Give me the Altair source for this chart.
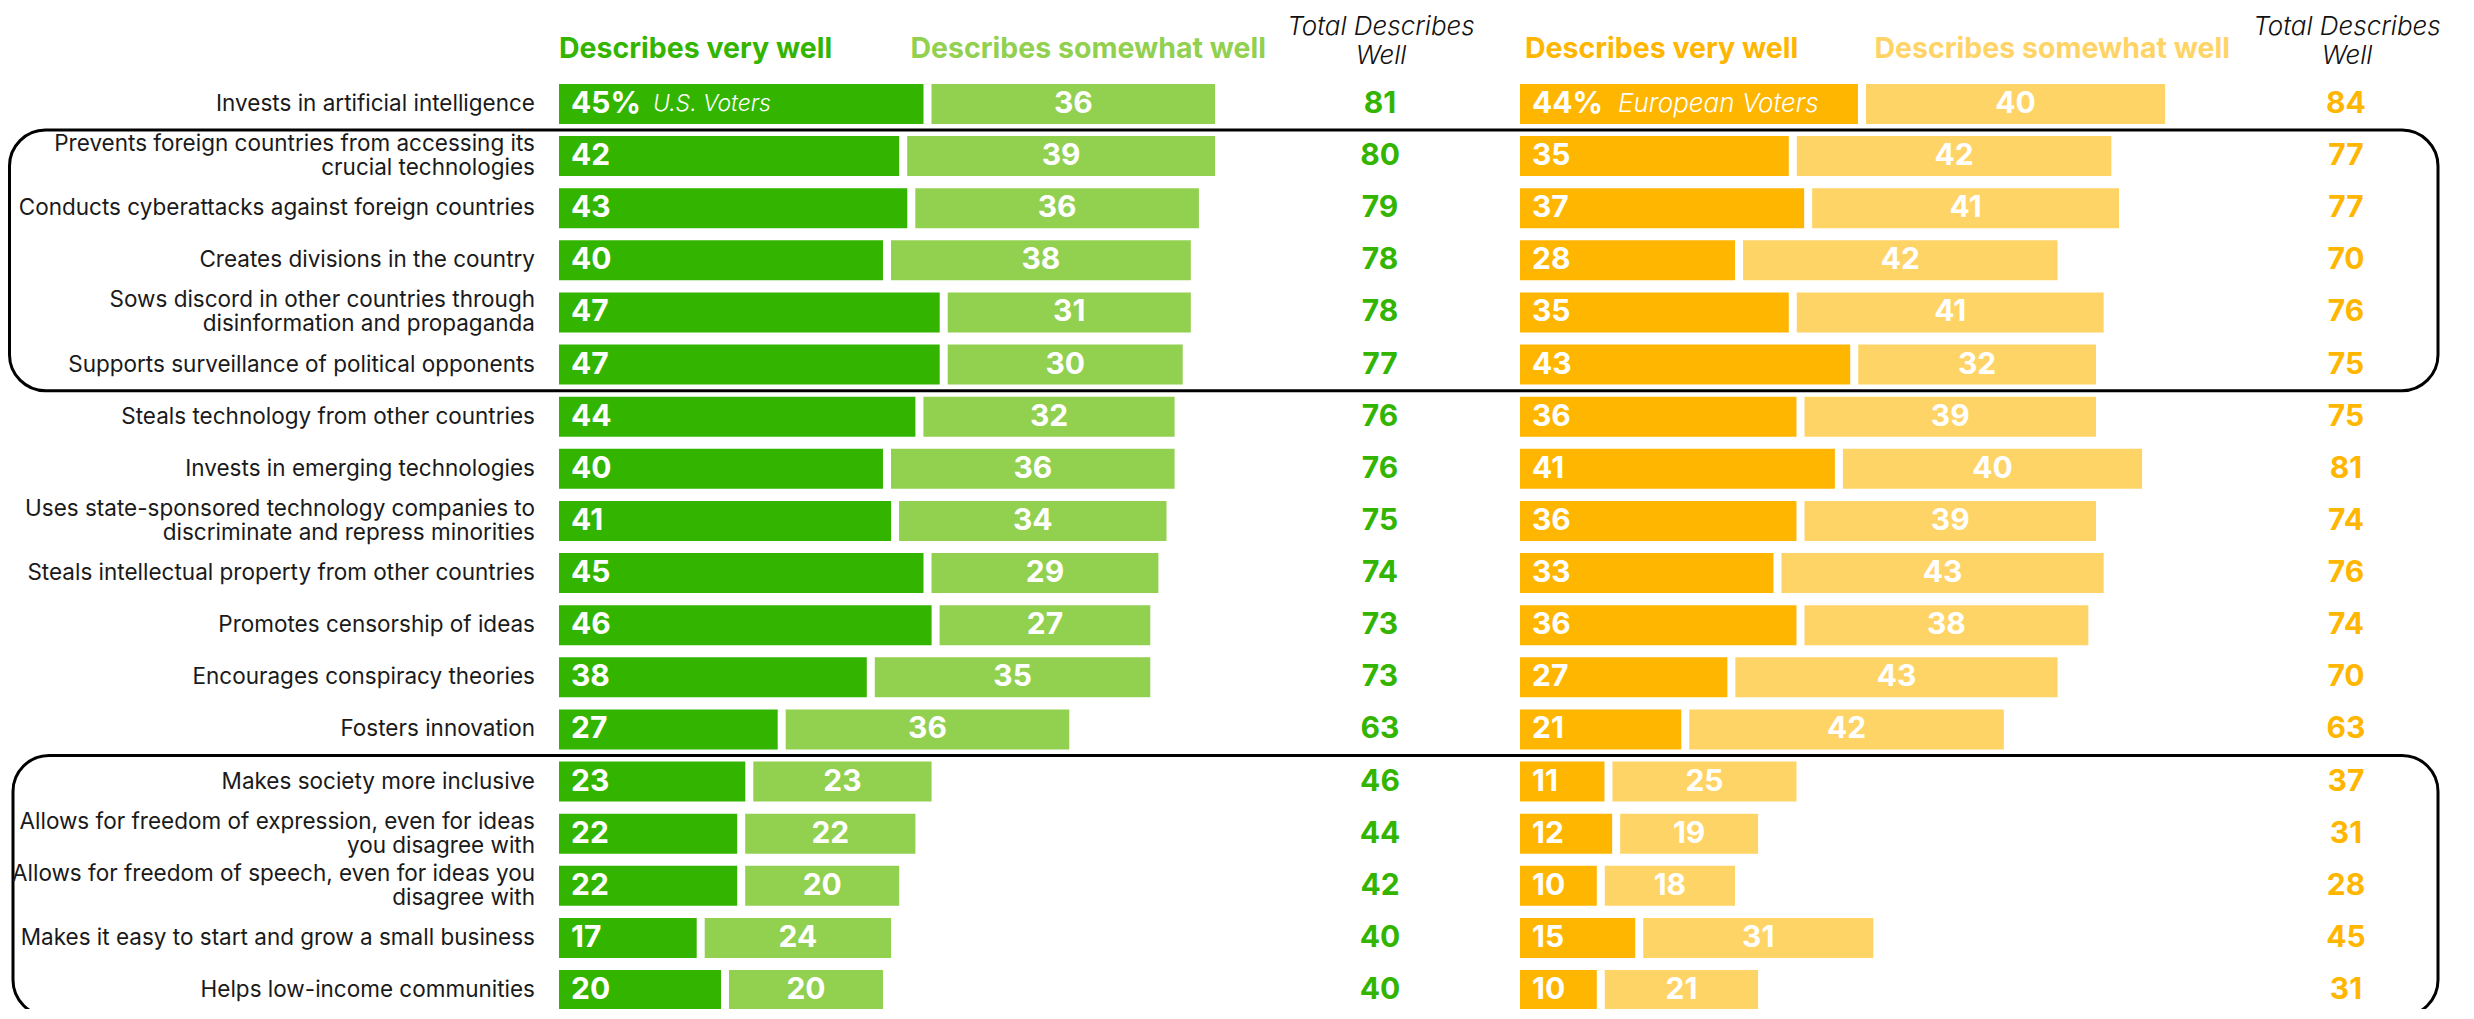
import altair as alt
import pandas as pd

labels = [
    "Invests in artificial intelligence",
    "Prevents foreign countries from accessing its\ncrucial technologies",
    "Conducts cyberattacks against foreign countries",
    "Creates divisions in the country",
    "Sows discord in other countries through\ndisinformation and propaganda",
    "Supports surveillance of political opponents",
    "Steals technology from other countries",
    "Invests in emerging technologies",
    "Uses state-sponsored technology companies to\ndiscriminate and repress minorities",
    "Steals intellectual property from other countries",
    "Promotes censorship of ideas",
    "Encourages conspiracy theories",
    "Fosters innovation",
    "Makes society more inclusive",
    "Allows for freedom of expression, even for ideas\nyou disagree with",
    "Allows for freedom of speech, even for ideas you\ndisagree with",
    "Makes it easy to start and grow a small business",
    "Helps low-income communities",
]
us_very = [45, 42, 43, 40, 47, 47, 44, 40, 41, 45, 46, 38, 27, 23, 22, 22, 17, 20]
us_some = [36, 39, 36, 38, 31, 30, 32, 36, 34, 29, 27, 35, 36, 23, 22, 20, 24, 20]
us_total = [81, 80, 79, 78, 78, 77, 76, 76, 75, 74, 73, 73, 63, 46, 44, 42, 40, 40]
eu_very = [44, 35, 37, 28, 35, 43, 36, 41, 36, 33, 36, 27, 21, 11, 12, 10, 15, 10]
eu_some = [40, 42, 41, 42, 41, 32, 39, 40, 39, 43, 38, 43, 42, 25, 19, 18, 31, 21]
eu_total = [84, 77, 77, 70, 76, 75, 75, 81, 74, 76, 74, 70, 63, 37, 31, 28, 45, 31]

# highlighted groups (first and last row index of each framed block)
box_first = [1, 13]
box_last = [5, 17]

GREEN = "#33B500"
LGREEN = "#92D050"
ORANGE = "#FFB600"
LORANGE = "#FFD466"
FONT = "Inter"

df = pd.DataFrame({
    "row": list(range(len(labels))),
    "label": labels,
    "us_very": us_very,
    "us_some": us_some,
    "us_total": us_total,
    "eu_very": eu_very,
    "eu_some": eu_some,
    "eu_total": eu_total,
})
df["us_very_txt"] = [f"{v}%" if i == 0 else str(v) for i, v in enumerate(us_very)]
df["eu_very_txt"] = [f"{v}%" if i == 0 else str(v) for i, v in enumerate(eu_very)]

boxes = pd.DataFrame({"first": box_first, "last": box_last, "box": [0, 1]})

W, H = 2456, 1001

yscale = alt.Scale(domain=[0, 17], range=[91, 987], zero=False, nice=False)
us_x = alt.Scale(domain=[0, 100], range=[551, 1361], zero=False, nice=False)
eu_x = alt.Scale(domain=[0, 100], range=[1512, 2280], zero=False, nice=False)
Y = alt.Y("row:Q", scale=yscale, axis=None)

base = alt.Chart(df).transform_calculate(
    start="0",
    us_cum="datum.us_very + datum.us_some",
    us_mid="datum.us_very + datum.us_some / 2",
    eu_cum="datum.eu_very + datum.eu_some",
    eu_mid="datum.eu_very + datum.eu_some / 2",
)

BAR_H = 40
GAP = 8
NUM = dict(font=FONT, fontSize=30, fontWeight="bold", baseline="middle")

# US bars
us_very_bar = base.mark_bar(color=GREEN, orient="horizontal", size=BAR_H).encode(
    x=alt.X("start:Q", scale=us_x, axis=None), x2="us_very:Q", y=Y)
us_some_bar = base.mark_bar(color=LGREEN, orient="horizontal", size=BAR_H, xOffset=GAP).encode(
    x=alt.X("us_very:Q", scale=us_x, axis=None), x2="us_cum:Q", y=Y)
us_very_lbl = base.mark_text(align="left", dx=12, color="white", **NUM).encode(
    x=alt.X("start:Q", scale=us_x, axis=None), y=Y, text="us_very_txt:N")
us_some_lbl = base.mark_text(align="center", dx=GAP / 2, color="white", **NUM).encode(
    x=alt.X("us_mid:Q", scale=us_x, axis=None), y=Y, text="us_some:Q")
us_voters = base.transform_filter("datum.row == 0").mark_text(
    align="left", dx=94, color="white", font=FONT, fontSize=23, fontStyle="italic",
    fontWeight=300, baseline="middle").encode(
    x=alt.X("start:Q", scale=us_x, axis=None), y=Y, text=alt.value("U.S. Voters"))
us_tot = base.mark_text(align="center", color=GREEN, **NUM).encode(
    x=alt.value(1372), y=Y, text="us_total:Q")

# European bars
eu_very_bar = base.mark_bar(color=ORANGE, orient="horizontal", size=BAR_H).encode(
    x=alt.X("start:Q", scale=eu_x, axis=None), x2="eu_very:Q", y=Y)
eu_some_bar = base.mark_bar(color=LORANGE, orient="horizontal", size=BAR_H, xOffset=GAP).encode(
    x=alt.X("eu_very:Q", scale=eu_x, axis=None), x2="eu_cum:Q", y=Y)
eu_very_lbl = base.mark_text(align="left", dx=12, color="white", **NUM).encode(
    x=alt.X("start:Q", scale=eu_x, axis=None), y=Y, text="eu_very_txt:N")
eu_some_lbl = base.mark_text(align="center", dx=GAP / 2, color="white", **NUM).encode(
    x=alt.X("eu_mid:Q", scale=eu_x, axis=None), y=Y, text="eu_some:Q")
eu_voters = base.transform_filter("datum.row == 0").mark_text(
    align="left", dx=98, color="white", font=FONT, fontSize=26, fontStyle="italic",
    fontWeight=300, baseline="middle").encode(
    x=alt.X("start:Q", scale=eu_x, axis=None), y=Y, text=alt.value("European Voters"))
eu_tot = base.mark_text(align="center", color=ORANGE, **NUM).encode(
    x=alt.value(2338), y=Y, text="eu_total:Q")

# row labels (one-line and two-line, the latter centred on the row)
LBL = dict(align="right", baseline="middle", font=FONT, fontSize=22.5, lineHeight=24,
           lineBreak="\n", color="#1a1a1a")
row_lbl1 = base.transform_filter("indexof(datum.label, '\\n') < 0").mark_text(**LBL).encode(
    x=alt.value(527), y=Y, text="label:N")
row_lbl2 = base.transform_filter("indexof(datum.label, '\\n') >= 0").mark_text(dy=-12, **LBL).encode(
    x=alt.value(527), y=Y, text="label:N")


# framing boxes
def frame(i, left):
    return alt.Chart(boxes).transform_filter(f"datum.box == {i}").transform_calculate(
        y0="datum.first - 0.5", y1="datum.last + 0.5").mark_rect(
        filled=False, stroke="black", strokeWidth=3, cornerRadius=36).encode(
        x=alt.value(left), x2=alt.value(2430),
        y=alt.Y("y0:Q", scale=yscale, axis=None), y2="y1:Q")


# headers
hdr_src = alt.Chart(pd.DataFrame({"k": [0]}))


def header(txt, x, color, align="left"):
    return hdr_src.mark_text(align=align, baseline="middle", font=FONT, fontSize=28.5,
                             fontWeight="bold", color=color).encode(
        x=alt.value(x), y=alt.value(41), text=alt.value(txt))


def total_header(x):
    return hdr_src.mark_text(align="center", baseline="middle", font=FONT, fontSize=26,
                             fontStyle="italic", fontWeight=300, color="#111",
                             lineHeight=29).encode(
        x=alt.value(x), y=alt.value(19), text=alt.value(["Total Describes", "Well"]))


headers = [
    header("Describes very well", 551, GREEN),
    header("Describes somewhat well", 1258, LGREEN, align="right"),
    header("Describes very well", 1517, ORANGE),
    header("Describes somewhat well", 2222, LORANGE, align="right"),
    total_header(1373),
    total_header(2339),
]

chart = alt.layer(
    frame(0, 1.5), frame(1, 5),
    us_very_bar, us_some_bar, us_very_lbl, us_some_lbl, us_voters, us_tot,
    eu_very_bar, eu_some_bar, eu_very_lbl, eu_some_lbl, eu_voters, eu_tot,
    row_lbl1, row_lbl2, *headers,
).resolve_scale(x="independent").properties(
    width=W, height=H, padding=0,
    autosize=alt.AutoSizeParams(type="none"),
    background="white",
).configure_view(stroke=None)

chart.save("out.html", embed_options={"renderer": "svg", "actions": False})
